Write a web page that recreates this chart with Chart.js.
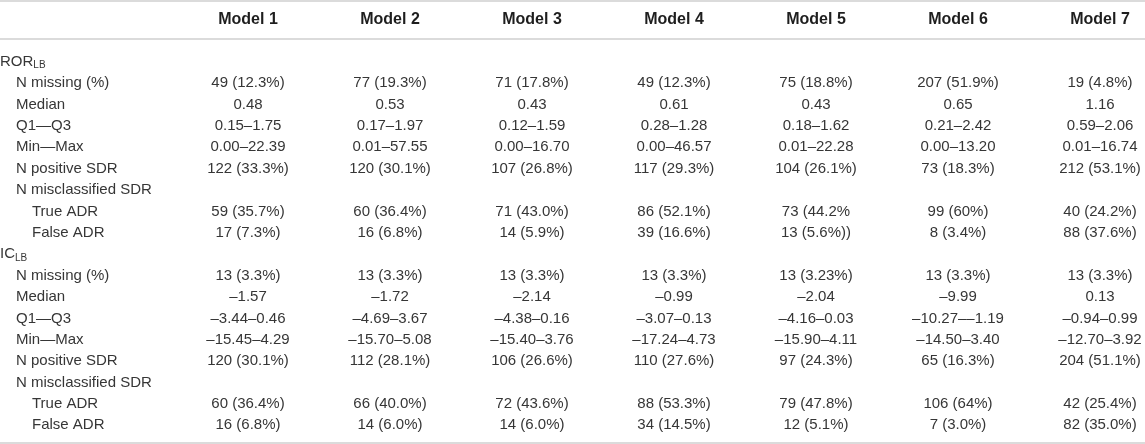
<!DOCTYPE html>
<html>
<head>
<meta charset="utf-8">
<script src="https://cdn.jsdelivr.net/npm/chart.js@4.4.0/dist/chart.umd.min.js"></script>
<style>
  html, body { margin: 0; padding: 0; background: #fff; }
  #wrap { position: relative; width: 1145px; height: 444px; }
</style>
</head>
<body>
<div id="wrap"><canvas id="tableChart"></canvas></div>
<script>
// Column headers
const models = ['Model 1', 'Model 2', 'Model 3', 'Model 4', 'Model 5', 'Model 6', 'Model 7'];

// Row labels (section rows carry a subscript)
const rowLabels = [
    'ROR', 'N missing (%)', 'Median', 'Q1—Q3', 'Min—Max', 'N positive SDR', 'N misclassified SDR', 'True ADR', 'False ADR',
    'IC', 'N missing (%)', 'Median', 'Q1—Q3', 'Min—Max', 'N positive SDR', 'N misclassified SDR', 'True ADR', 'False ADR'
];
const rowSubscripts = ['LB', '', '', '', '', '', '', '', '', 'LB', '', '', '', '', '', '', '', ''];
// 0 = section, 1 = measure, 2 = sub-measure
const rowLevels = [0, 1, 1, 1, 1, 1, 1, 2, 2, 0, 1, 1, 1, 1, 1, 1, 2, 2];

// ROR_LB values
const rorMissing  = ['49 (12.3%)', '77 (19.3%)', '71 (17.8%)', '49 (12.3%)', '75 (18.8%)', '207 (51.9%)', '19 (4.8%)'];
const rorMedian   = ['0.48', '0.53', '0.43', '0.61', '0.43', '0.65', '1.16'];
const rorQ1Q3     = ['0.15–1.75', '0.17–1.97', '0.12–1.59', '0.28–1.28', '0.18–1.62', '0.21–2.42', '0.59–2.06'];
const rorMinMax   = ['0.00–22.39', '0.01–57.55', '0.00–16.70', '0.00–46.57', '0.01–22.28', '0.00–13.20', '0.01–16.74'];
const rorPositive = ['122 (33.3%)', '120 (30.1%)', '107 (26.8%)', '117 (29.3%)', '104 (26.1%)', '73 (18.3%)', '212 (53.1%)'];
const rorTrueAdr  = ['59 (35.7%)', '60 (36.4%)', '71 (43.0%)', '86 (52.1%)', '73 (44.2%', '99 (60%)', '40 (24.2%)'];
const rorFalseAdr = ['17 (7.3%)', '16 (6.8%)', '14 (5.9%)', '39 (16.6%)', '13 (5.6%))', '8 (3.4%)', '88 (37.6%)'];

// IC_LB values
const icMissing  = ['13 (3.3%)', '13 (3.3%)', '13 (3.3%)', '13 (3.3%)', '13 (3.23%)', '13 (3.3%)', '13 (3.3%)'];
const icMedian   = ['–1.57', '–1.72', '–2.14', '–0.99', '–2.04', '–9.99', '0.13'];
const icQ1Q3     = ['–3.44–0.46', '–4.69–3.67', '–4.38–0.16', '–3.07–0.13', '–4.16–0.03', '–10.27––1.19', '–0.94–0.99'];
const icMinMax   = ['–15.45–4.29', '–15.70–5.08', '–15.40–3.76', '–17.24–4.73', '–15.90–4.11', '–14.50–3.40', '–12.70–3.92'];
const icPositive = ['120 (30.1%)', '112 (28.1%)', '106 (26.6%)', '110 (27.6%)', '97 (24.3%)', '65 (16.3%)', '204 (51.1%)'];
const icTrueAdr  = ['60 (36.4%)', '66 (40.0%)', '72 (43.6%)', '88 (53.3%)', '79 (47.8%)', '106 (64%)', '42 (25.4%)'];
const icFalseAdr = ['16 (6.8%)', '14 (6.0%)', '14 (6.0%)', '34 (14.5%)', '12 (5.1%)', '7 (3.0%)', '82 (35.0%)'];

// Values per row, null where the row only holds a label
const rowValues = [
    null, rorMissing, rorMedian, rorQ1Q3, rorMinMax, rorPositive, null, rorTrueAdr, rorFalseAdr,
    null, icMissing, icMedian, icQ1Q3, icMinMax, icPositive, null, icTrueAdr, icFalseAdr
];

const FONT = '"Liberation Sans", Arial, Helvetica, sans-serif';
const TEXT_COLOR = '#363636';
const RULE_COLOR = '#cfcfcf';
const INDENT = 16;

// One invisible point per cell (x = column index, y = row index),
// the plugin writes the text at the point position
const cells = [];
rowValues.forEach((vals, r) => {
    if (!vals) return;
    vals.forEach((txt, c) => cells.push({ x: c, y: r, text: txt }));
});

const tableTextPlugin = {
    id: 'tableText',
    afterDatasetsDraw(chart) {
        const ctx = chart.ctx;
        const area = chart.chartArea;
        const xScale = chart.scales.x;
        const yScale = chart.scales.y;
        ctx.save();

        // rules
        ctx.strokeStyle = RULE_COLOR;
        ctx.lineWidth = 1.5;
        [1, area.top - 12, area.bottom + 7].forEach(y => {
            ctx.beginPath();
            ctx.moveTo(0, y);
            ctx.lineTo(chart.width, y);
            ctx.stroke();
        });

        // column headers
        ctx.fillStyle = '#1e1e1e';
        ctx.font = 'bold 16px ' + FONT;
        ctx.textAlign = 'center';
        ctx.textBaseline = 'middle';
        models.forEach((m, c) => {
            ctx.fillText(m, xScale.getPixelForValue(c), area.top - 31);
        });

        // row labels
        ctx.fillStyle = TEXT_COLOR;
        ctx.textAlign = 'left';
        rowLabels.forEach((label, r) => {
            const y = yScale.getPixelForValue(r);
            const x = rowLevels[r] * INDENT;
            ctx.font = '15px ' + FONT;
            ctx.fillText(label, x, y);
            if (rowSubscripts[r]) {
                const w = ctx.measureText(label).width;
                ctx.font = '10px ' + FONT;
                ctx.fillText(rowSubscripts[r], x + w, y + 4);
            }
        });

        // cell values
        ctx.font = '15px ' + FONT;
        ctx.textAlign = 'center';
        const meta = chart.getDatasetMeta(0);
        meta.data.forEach((pt, i) => {
            ctx.fillText(chart.data.datasets[0].data[i].text, pt.x, pt.y);
        });

        ctx.restore();
    }
};

new Chart(document.getElementById('tableChart'), {
    type: 'scatter',
    data: {
        datasets: [{
            data: cells,
            pointRadius: 0,
            pointHoverRadius: 0,
            showLine: false
        }]
    },
    options: {
        responsive: true,
        maintainAspectRatio: false,
        animation: false,
        events: [],
        layout: {
            padding: { left: 248, right: 45, top: 51, bottom: 8 }
        },
        scales: {
            x: {
                type: 'linear',
                min: 0,
                max: models.length - 1,
                display: false
            },
            y: {
                type: 'linear',
                min: -0.5,
                max: rowLabels.length - 0.5,
                reverse: true,
                display: false
            }
        },
        plugins: {
            legend: { display: false },
            tooltip: { enabled: false }
        }
    },
    plugins: [tableTextPlugin]
});
</script>
</body>
</html>
